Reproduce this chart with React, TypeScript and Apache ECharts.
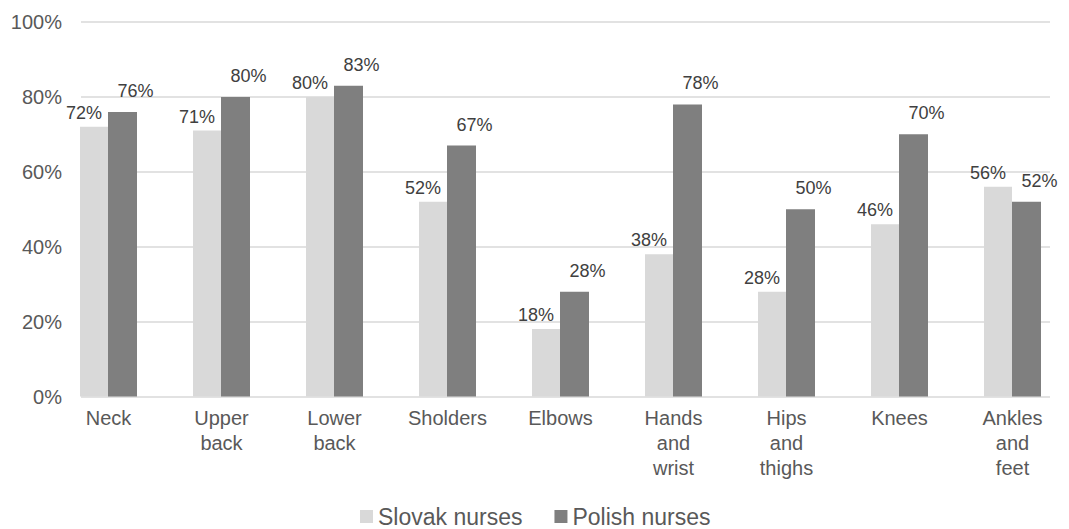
import React, { useEffect, useRef } from "react";
import * as echarts from "echarts";

const categories = [
  "Neck",
  "Upper\nback",
  "Lower\nback",
  "Sholders",
  "Elbows",
  "Hands\nand\nwrist",
  "Hips\nand\nthighs",
  "Knees",
  "Ankles\nand\nfeet",
];
const slovakNurses = [72, 71, 80, 52, 18, 38, 28, 46, 56];
const polishNurses = [76, 80, 83, 67, 28, 78, 50, 70, 52];
const seriesNames = ["Slovak nurses", "Polish nurses"];

const FONT = "'Liberation Sans', Arial, Helvetica, sans-serif";

export default function App() {
  const ref = useRef<HTMLDivElement>(null);
  useEffect(() => {
    if (!ref.current) return;
    const chart = echarts.init(ref.current, null, { renderer: "svg" });
    const top = 22;
    const height = 374.5;
    chart.setOption({
      animation: false,
      backgroundColor: "#ffffff",
      textStyle: { fontFamily: FONT },
      grid: [
        { left: 81, width: 969, top, height },
        { left: 52, width: 1027, top, height },
      ],
      legend: {
        data: seriesNames,
        left: 360,
        top: 505,
        padding: 0,
        itemWidth: 13,
        itemHeight: 13,
        itemGap: 32,
        icon: "rect",
        textStyle: {
          fontSize: 23,
          lineHeight: 23,
          color: "#595959",
          fontFamily: FONT,
        },
      },
      xAxis: [
        { type: "value", gridIndex: 0, show: false, min: 0, max: 1 },
        {
          type: "category",
          gridIndex: 1,
          data: categories,
          axisLine: { show: false },
          axisTick: { show: false },
          axisLabel: {
            interval: 0,
            margin: 9,
            fontSize: 20,
            lineHeight: 25,
            color: "#595959",
            fontFamily: FONT,
          },
        },
      ],
      yAxis: [
        {
          type: "value",
          gridIndex: 0,
          min: 0,
          max: 100,
          interval: 20,
          axisLine: { show: false },
          axisTick: { show: false },
          splitLine: { lineStyle: { color: "#d9d9d9", width: 1.5 } },
          axisLabel: {
            formatter: "{value}%",
            fontSize: 20,
            margin: 19,
            color: "#595959",
            fontFamily: FONT,
          },
        },
        {
          type: "value",
          gridIndex: 1,
          min: 0,
          max: 100,
          interval: 20,
          show: false,
          splitLine: { show: false },
        },
      ],
      series: [
        {
          name: seriesNames[0],
          type: "bar",
          xAxisIndex: 1,
          yAxisIndex: 1,
          data: slovakNurses,
          barWidth: 28,
          barGap: "0%",
          itemStyle: { color: "#d9d9d9" },
          label: {
            show: true,
            position: "top",
            distance: 5,
            offset: [-10, 0],
            formatter: "{c}%",
            fontSize: 18,
            color: "#404040",
            fontFamily: FONT,
          },
        },
        {
          name: seriesNames[1],
          type: "bar",
          xAxisIndex: 1,
          yAxisIndex: 1,
          data: polishNurses,
          barWidth: 29,
          barGap: "0%",
          itemStyle: { color: "#7f7f7f" },
          label: {
            show: true,
            position: "top",
            distance: 5,
            offset: [13, -7],
            formatter: "{c}%",
            fontSize: 18,
            color: "#404040",
            fontFamily: FONT,
          },
        },
      ],
    });
    return () => chart.dispose();
  }, []);
  return (
    <div
      ref={ref}
      style={{ position: "absolute", left: 0, top: 0, width: 1069, height: 529 }}
    />
  );
}
